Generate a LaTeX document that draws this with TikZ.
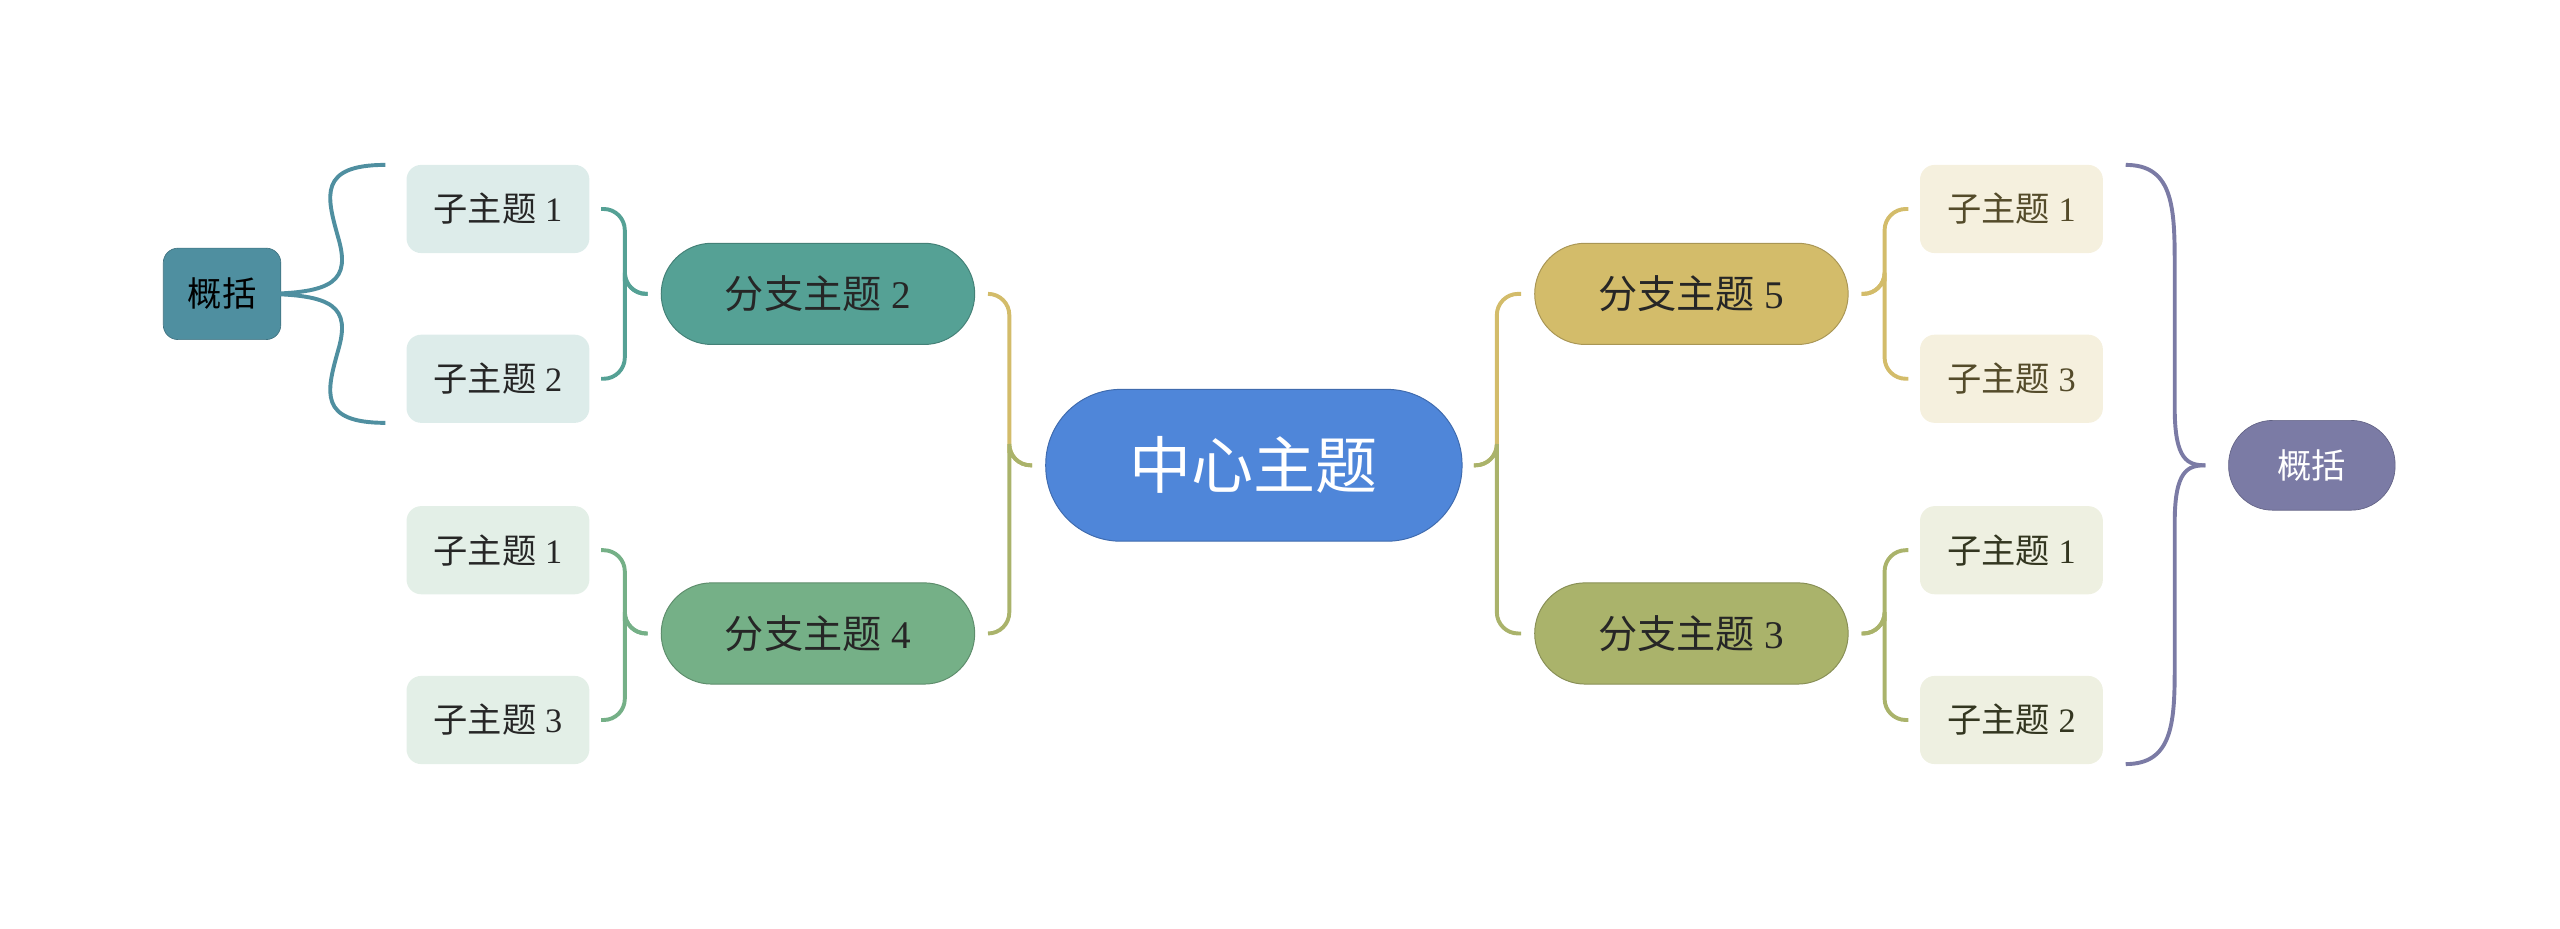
\documentclass[tikz,border=0pt]{standalone}
\usepackage{fontspec}
\setmainfont{Liberation Serif}
\newfontfamily\cjk{Noto Sans CJK SC}
\usetikzlibrary{positioning}
\definecolor{centerblue}{HTML}{4F86D9}
\definecolor{tealA}{HTML}{55A195}
\definecolor{greenA}{HTML}{75B087}
\definecolor{goldA}{HTML}{D3BC6A}
\definecolor{oliveA}{HTML}{AAB36B}
\definecolor{sumleft}{HTML}{4F8FA0}
\definecolor{sumright}{HTML}{7B7BA5}
\tikzset{
  pill/.style={draw=#1!80!black, line width=0.6pt, fill=#1, minimum width=192, minimum height=62, rounded corners=31, inner sep=0pt, font=\fontsize{24}{24}\selectfont, text=black!85},
  subbox/.style={fill=#1, minimum width=112, minimum height=54, rounded corners=9, inner sep=0pt, font=\fontsize{21}{21}\selectfont},
  link/.style={line width=2.4pt, rounded corners=13, #1},
  bracelines/.style={line width=2.4pt, #1}
}
\begin{document}
\begin{tikzpicture}[x=1pt,y=-1pt]
	\useasboundingbox (0,0) rectangle (1568,569);

	% center and main branches
	\node[pill=centerblue, minimum width=255, minimum height=93, rounded corners=46, text=white, font=\fontsize{38}{38}\selectfont] (center) at (768,285) {\cjk 中心主题};
	\node[pill=tealA] (b2) at (501,180) {{\cjk 分支主题} 2};
	\node[pill=greenA] (b4) at (501,388) {{\cjk 分支主题} 4};
	\node[pill=goldA] (b5) at (1036,180) {{\cjk 分支主题} 5};
	\node[pill=oliveA] (b3) at (1036,388) {{\cjk 分支主题} 3};

	% subtopics
	\node[subbox=tealA!20, text=black!85] (s21) at (305,128) {{\cjk 子主题} 1};
	\node[subbox=tealA!20, text=black!85] (s22) at (305,232) {{\cjk 子主题} 2};
	\node[subbox=greenA!20, text=black!85] (s41) at (305,337) {{\cjk 子主题} 1};
	\node[subbox=greenA!20, text=black!85] (s43) at (305,441) {{\cjk 子主题} 3};
	\node[subbox=goldA!22, text=goldA!40!black] (s51) at (1232,128) {{\cjk 子主题} 1};
	\node[subbox=goldA!22, text=goldA!40!black] (s53) at (1232,232) {{\cjk 子主题} 3};
	\node[subbox=oliveA!20, text=oliveA!30!black] (s31) at (1232,337) {{\cjk 子主题} 1};
	\node[subbox=oliveA!20, text=oliveA!30!black] (s32) at (1232,441) {{\cjk 子主题} 2};

	% summaries
	\node[draw=sumleft!80!black, fill=sumleft, minimum width=72, minimum height=56, rounded corners=9, inner sep=0pt, font=\fontsize{21}{21}\selectfont] (sumL) at (136,180) {\cjk 概括};
	\node[draw=sumright!80!black, fill=sumright, minimum width=102, minimum height=55, rounded corners=27, inner sep=0pt, text=white, font=\fontsize{21}{21}\selectfont] (sumR) at (1416,285) {\cjk 概括};

	% center links
	\coordinate (cl) at ([xshift=-8]center.west);
	\coordinate (cr) at ([xshift=7]center.east);
	\draw[link=goldA] ([xshift=8]b2.east) -| ([xshift=-14]cl) |- (cl);
	\draw[link=oliveA] ([xshift=8]b4.east) -| ([xshift=-14]cl) |- (cl);
	\draw[link=goldA] ([xshift=-8]b5.west) -| ([xshift=14]cr) |- (cr);
	\draw[link=oliveA] ([xshift=-8]b3.west) -| ([xshift=14]cr) |- (cr);

	% branch links
	\foreach \b/\s in {b2/s21, b2/s22}
		\draw[link=tealA] ([xshift=7]\s.east) -| ([xshift=-22]\b.west) |- ([xshift=-8]\b.west);
	\foreach \b/\s in {b4/s41, b4/s43}
		\draw[link=greenA] ([xshift=7]\s.east) -| ([xshift=-22]\b.west) |- ([xshift=-8]\b.west);
	\foreach \b/\s in {b5/s51, b5/s53}
		\draw[link=goldA] ([xshift=-7]\s.west) -| ([xshift=22]\b.east) |- ([xshift=8]\b.east);
	\foreach \b/\s in {b3/s31, b3/s32}
		\draw[link=oliveA] ([xshift=-7]\s.west) -| ([xshift=22]\b.east) |- ([xshift=8]\b.east);

	% summary braces
	\coordinate (lt) at (236,101);
	\coordinate (lb) at (236,259);
	\coordinate (ltip) at ([xshift=-14]sumL.east);
	\draw[bracelines=sumleft] (lt) .. controls (195,101) and (200,120) .. (207,145)
		.. controls (215,172) and (205,180) .. (ltip);
	\draw[bracelines=sumleft] (lb) .. controls (195,259) and (200,240) .. (207,215)
		.. controls (215,188) and (205,180) .. (ltip);
	\coordinate (rt) at (1302,101);
	\coordinate (rb) at (1302,468);
	\coordinate (rtip) at ([xshift=-14]sumR.west);
	\draw[bracelines=sumright] (rt) .. controls (1330,101) and (1332,125) .. (1332,160)
		-- (1332,250) .. controls (1332,282) and (1340,285) .. (rtip);
	\draw[bracelines=sumright] (rb) .. controls (1330,468) and (1332,444) .. (1332,410)
		-- (1332,320) .. controls (1332,288) and (1340,285) .. (rtip);
\end{tikzpicture}
\end{document}
